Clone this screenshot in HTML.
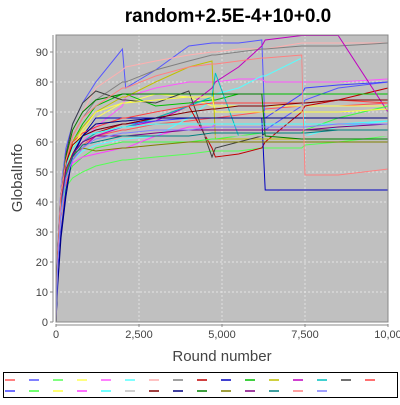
<!DOCTYPE html>
<html><head><meta charset="utf-8"><style>
body{margin:0;background:#fff;width:400px;height:400px;overflow:hidden;font-family:"Liberation Sans",sans-serif}
</style></head><body>
<svg id="c" width="400" height="400" xmlns="http://www.w3.org/2000/svg">
<text x="228" y="22" text-anchor="middle" font-size="19" font-weight="bold" fill="#000">random+2.5E-4+10+0.0</text>
<rect x="56" y="35" width="332" height="287" fill="#c0c0c0"/>
<g id="grid"></g><g id="series"></g><g id="axes"></g>
<text x="222" y="361" text-anchor="middle" font-size="15" fill="#444">Round number</text>
<text transform="translate(22,178) rotate(-90)" text-anchor="middle" font-size="15" fill="#444">GlobalInfo</text>
<rect x="3.5" y="372.5" width="394" height="25" fill="#fff" stroke="#000"/>
<g id="legend"></g>
</svg>
<script>
const xTicks=[0,2500,5000,7500,10000];
const xTickLabels=["0","2,500","5,000","7,500","10,00"];
const yTicks=[0,10,20,30,40,50,60,70,80,90];
const colors=["#ff5555","#5555ff","#55ff55","#ffff55","#ff55ff","#55ffff","#ffafaf","#808080","#c00000","#0000c0","#00c000","#c0c000","#c000c0","#00c0c0","#404040","#ff4040","#4040ff","#40ff40","#ffff40","#ff40ff","#40ffff","#c0c0c0","#800000","#000080","#008000","#808000","#800080","#008080","#ff8080","#8080ff"];
const rounds=[0,50,150,300,500,800,1200,2000,2100,3000,4000,4700,4800,5500,6200,6300,7400,7500,8500,10000];
const s0=[0,18,35,46,54,59,62,64,64,66,67,68,68,69,70,71,72,72,72,73];
const s1=[0,25,45,58,66,73,80,91,78,84,92,93,93,93,94,64,72,74,78,80];
const s2=[0,22,38,45,48,50,52,54,54,55,56,57,57,57,58,58,58,59,60,62];
const s3=[0,20,38,50,58,63,68,73,73,76,75,72,72,72,72,72,72,72,72,72];
const s4=[0,21,40,50,56,60,65,72,75,78,80,80,80,81,81,80,80,80,80,81];
const s5=[0,18,36,48,54,57,59,61,61,62,68,74,76,78,82,82,88,62,65,67];
const s6=[0,24,44,56,64,70,78,84,85,87,89,90,90,91,91,91,93,93,93,93];
const s7=[0,23,42,54,62,68,74,80,80,84,87,89,89,90,91,91,92,92,92,93];
const s8=[0,20,38,48,56,60,63,66,66,68,72,58,55,56,58,60,70,72,74,78];
const s9=[0,15,30,44,55,62,68,68,68,68,68,68,68,68,68,44,44,44,44,44];
const s10=[0,22,41,53,60,66,72,76,76,72,73,74,74,76,76,76,76,76,76,76];
const s11=[0,21,40,52,60,65,70,75,75,80,85,87,61,61,61,61,61,61,61,61];
const s12=[0,20,38,48,54,58,62,65,65,67,72,78,80,85,92,94,96,96,96,70];
const s13=[0,19,38,50,56,60,63,65,65,68,72,75,83,62,62,62,62,62,62,62];
const s14=[0,23,42,56,66,73,77,74,74,73,77,55,58,60,62,63,63,64,64,64];
const s15=[0,22,42,54,60,63,65,68,68,70,72,73,73,73,73,73,73,73,74,73];
const s16=[0,21,40,52,58,62,64,66,66,67,68,68,68,68,68,68,76,78,79,80];
const s17=[0,20,39,48,52,55,58,60,60,60,60,61,61,62,63,63,63,64,68,72];
const s18=[0,20,38,50,58,64,70,73,73,74,75,75,70,70,70,70,70,70,70,71];
const s19=[0,19,37,48,53,55,56,58,58,62,65,65,66,66,66,66,66,66,66,66];
const s20=[0,21,40,52,58,62,63,65,65,66,66,66,66,66,66,66,66,66,66,67];
const s21=[0,20,38,49,55,58,61,62,62,62,62,62,62,62,62,62,62,62,62,62];
const s22=[0,22,41,53,59,62,64,66,66,68,70,71,71,72,72,72,73,73,74,74];
const s23=[0,12,28,42,56,62,66,67,67,68,68,68,68,68,68,68,68,68,68,68];
const s24=[0,22,42,55,64,70,74,76,76,76,76,76,76,76,76,62,61,61,61,61];
const s25=[0,20,39,50,56,58,57,58,58,59,60,60,60,60,60,60,60,60,60,60];
const s26=[0,21,40,51,56,60,62,62,62,63,64,64,64,64,64,64,64,64,65,66];
const s27=[0,20,38,49,55,59,60,62,62,62,62,63,63,63,63,63,63,63,64,64];
const s28=[0,22,42,54,62,68,72,78,78,82,85,86,86,87,88,88,89,49,49,51];
const s29=[0,19,37,48,54,58,61,63,63,64,64,65,65,65,65,65,65,65,66,66];
const seriesValues=[s0,s1,s2,s3,s4,s5,s6,s7,s8,s9,s10,s11,s12,s13,s14,s15,s16,s17,s18,s19,s20,s21,s22,s23,s24,s25,s26,s27,s28,s29];
const X=v=>56+v*332/10000, Y=v=>322-v*3;
const NS="http://www.w3.org/2000/svg";
function mk(t,a,p){const e=document.createElementNS(NS,t);for(const k in a)e.setAttribute(k,a[k]);p.appendChild(e);return e;}
const grid=document.getElementById('grid'),axes=document.getElementById('axes');
xTicks.forEach((t,i)=>{
 if(i>0&&i<xTicks.length-1){const g=mk('line',{x1:X(t),x2:X(t),y1:35,y2:322,stroke:'#eee','stroke-width':0.7,'stroke-dasharray':'2,2'},grid);
 
 }
 mk('line',{x1:X(t),x2:X(t),y1:324,y2:327,stroke:'#888'},axes);
 const tx=mk('text',{x:X(t),y:338,'text-anchor':'middle','font-size':'11',fill:'#444'},axes);tx.textContent=xTickLabels[i];
 
 
});
yTicks.forEach(t=>{
 if(t>0){const g=mk('line',{x1:56,x2:388,y1:Y(t),y2:Y(t),stroke:'#eee','stroke-width':0.7,'stroke-dasharray':'2,2'},grid);
 
 }
 mk('line',{x1:50,x2:53,y1:Y(t),y2:Y(t),stroke:'#888'},axes);
 const tx=mk('text',{x:48,y:Y(t)+4,'text-anchor':'end','font-size':'11',fill:'#444'},axes);tx.textContent=t;
 
 
});
mk('line',{x1:53,x2:53,y1:35,y2:322,stroke:'#888'},axes);
mk('line',{x1:56,x2:388,y1:325,y2:325,stroke:'#888'},axes);
mk('rect',{x:56,y:35,width:332,height:287,fill:'none',stroke:'#888'},axes);
const sg=document.getElementById('series');
seriesValues.forEach((vals,i)=>{
 const pts=vals.map((v,j)=>X(rounds[j]).toFixed(1)+','+Y(Math.min(v,95.5)).toFixed(1));
 const p=mk('polyline',{points:pts.join(' '),fill:'none',stroke:colors[i],'stroke-width':1},sg);
 
 
});
const lg=document.getElementById('legend');
colors.forEach((c,i)=>{
 const row=i<16?0:1,col=i<16?i:i-16;
 const l=mk('line',{x1:5+col*24,x2:15+col*24,y1:380+row*11,y2:380+row*11,stroke:c,'stroke-width':1.5},lg);
 
 
});
</script>
</body></html>
